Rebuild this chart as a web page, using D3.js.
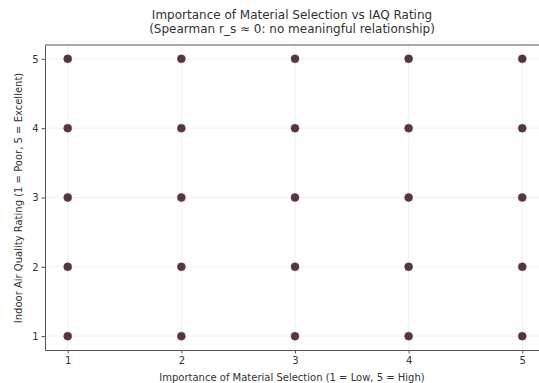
<!DOCTYPE html>
<meta charset="utf-8">
<style>
body { margin: 0; background: #fff; }
text { font-family: "DejaVu Sans", sans-serif; fill: #333; }
.grid line { stroke: #ececec; stroke-width: 0.8px; }
.axis path, .axis line { stroke: #555; }
.dot { fill: #4e3844; stroke: #7a3a55; stroke-width: 0.6px; }
</style>
<body>
<script src="https://cdn.jsdelivr.net/npm/d3@7"></script>
<script>

// chart data
var xTicks = [1, 2, 3, 4, 5];
var yTicks = [1, 2, 3, 4, 5];
var selection = [1,1,1,1,1, 2,2,2,2,2, 3,3,3,3,3, 4,4,4,4,4, 5,5,5,5,5];
var rating    = [1,2,3,4,5, 1,2,3,4,5, 1,2,3,4,5, 1,2,3,4,5, 1,2,3,4,5];

var width = 539, height = 383;
var margin = {top: 45, left: 45, bottom: 33, right: -6};

var svg = d3.select("body").append("svg")
    .attr("width", width)
    .attr("height", height);

var x = d3.scaleLinear().domain([0.8, 5.2]).range([margin.left, width - margin.right]);
var y = d3.scaleLinear().domain([0.8, 5.2]).range([height - margin.bottom, margin.top]);

// grid
var grid = svg.append("g").attr("class", "grid");
grid.selectAll(".gx").data(xTicks).enter().append("line")
    .attr("x1", function(d) { return x(d); }).attr("x2", function(d) { return x(d); })
    .attr("y1", y(0.8)).attr("y2", y(5.2));
grid.selectAll(".gy").data(yTicks).enter().append("line")
    .attr("y1", function(d) { return y(d); }).attr("y2", function(d) { return y(d); })
    .attr("x1", x(0.8)).attr("x2", x(5.2));

// points
svg.selectAll(".dot").data(selection).enter().append("circle")
    .attr("class", "dot")
    .attr("cx", function(d) { return x(d); })
    .attr("cy", function(d, i) { return y(rating[i]); })
    .attr("r", 4);

// axes
svg.append("g").attr("class", "axis")
    .attr("transform", "translate(0," + y(0.8) + ")")
    .call(d3.axisBottom(x).tickValues(xTicks).tickFormat(d3.format("d"))
      .tickSize(3.5).tickSizeOuter(0).tickPadding(3));
svg.append("g").attr("class", "axis")
    .attr("transform", "translate(" + x(0.8) + ",0)")
    .call(d3.axisLeft(y).tickValues(yTicks).tickFormat(d3.format("d"))
      .tickSize(3.5).tickSizeOuter(0).tickPadding(3));
svg.selectAll(".axis text").style("font-size", "10px").style("font-family", "DejaVu Sans");

// top spine
svg.append("line")
    .attr("x1", x(0.8)).attr("x2", x(5.2))
    .attr("y1", y(5.2)).attr("y2", y(5.2))
    .attr("stroke", "#555");

// titles
svg.append("text")
    .attr("x", 292).attr("y", 19)
    .attr("text-anchor", "middle")
    .style("font-size", "12px")
    .text("Importance of Material Selection vs IAQ Rating");
svg.append("text")
    .attr("x", 292).attr("y", 33)
    .attr("text-anchor", "middle")
    .style("font-size", "12px")
    .text("(Spearman r_s \u2248 0: no meaningful relationship)");

svg.append("text")
    .attr("x", 292).attr("y", 381)
    .attr("text-anchor", "middle")
    .style("font-size", "10px")
    .text("Importance of Material Selection (1 = Low, 5 = High)");

svg.append("text")
    .attr("transform", "translate(22," + 198 + ") rotate(-90)")
    .attr("text-anchor", "middle")
    .style("font-size", "10px")
    .text("Indoor Air Quality Rating (1 = Poor, 5 = Excellent)");

</script>
</body>
